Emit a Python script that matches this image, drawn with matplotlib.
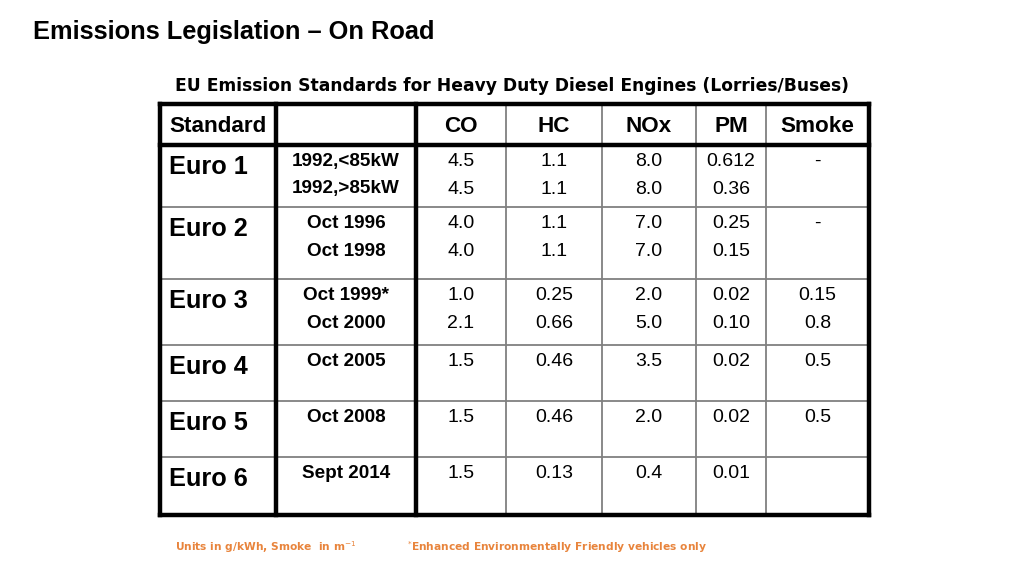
import matplotlib
matplotlib.use("Agg")
import matplotlib.pyplot as plt

# ---- data ----
title = "Emissions Legislation \u2013 On Road"
subtitle = "EU Emission Standards for Heavy Duty Diesel Engines (Lorries/Buses)"
headers = ["Standard", "", "CO", "HC", "NOx", "PM", "Smoke"]
standards = ["Euro 1", "Euro 2", "Euro 3", "Euro 4", "Euro 5", "Euro 6"]
dates = [["1992,<85kW", "1992,>85kW"], ["Oct 1996", "Oct 1998"], ["Oct 1999*", "Oct 2000"],
         ["Oct 2005"], ["Oct 2008"], ["Sept 2014"]]
co = [["4.5", "4.5"], ["4.0", "4.0"], ["1.0", "2.1"], ["1.5"], ["1.5"], ["1.5"]]
hc = [["1.1", "1.1"], ["1.1", "1.1"], ["0.25", "0.66"], ["0.46"], ["0.46"], ["0.13"]]
nox = [["8.0", "8.0"], ["7.0", "7.0"], ["2.0", "5.0"], ["3.5"], ["2.0"], ["0.4"]]
pm = [["0.612", "0.36"], ["0.25", "0.15"], ["0.02", "0.10"], ["0.02"], ["0.02"], ["0.01"]]
smoke = [["-"], ["-"], ["0.15", "0.8"], ["0.5"], ["0.5"], [""]]
footnote_units = "Units in g/kWh, Smoke  in m$^{-1}$"
footnote_eev = "$^{*}$Enhanced Environmentally Friendly vehicles only"

# ---- layout (pixel coordinates) ----
W, H = 1024, 576
fig = plt.figure(figsize=(W / 100, H / 100), dpi=100)
ax = fig.add_axes([0, 0, 1, 1])
ax.set_xlim(0, W)
ax.set_ylim(H, 0)
ax.axis("off")

col_x = [160, 276, 416, 506, 602, 696, 766, 869]
row_y = [104, 145, 207, 279, 345, 401, 457, 515]
sans = "Liberation Sans"
verd = "DejaVu Sans"
orange = "#E8843C"

ax.text(33, 32, title, fontsize=18.3, fontweight="bold", family=sans, va="center", ha="left")
ax.text(512, 86, subtitle, fontsize=12.3, fontweight="bold", family=verd, va="center", ha="center")

# grid lines
for i, x in enumerate(col_x):
    thick = i in (0, 1, 2, len(col_x) - 1)
    ax.plot([x, x], [row_y[0], row_y[-1]], color="black" if thick else "#808080",
            lw=3.2 if thick else 1.3, solid_capstyle="projecting", zorder=3 if thick else 2)
for j, y in enumerate(row_y):
    thick = j in (0, 1, len(row_y) - 1)
    ax.plot([col_x[0], col_x[-1]], [y, y], color="black" if thick else "#808080",
            lw=3.2 if thick else 1.3, solid_capstyle="projecting", zorder=3 if thick else 2)

# header
ax.text(col_x[0] + 9, 126.5, headers[0], fontsize=16.2, fontweight="bold", family=sans,
        va="center", ha="left")
for k in range(2, len(headers)):
    ax.text((col_x[k] + col_x[k + 1]) / 2, 126.5, headers[k], fontsize=16.2, fontweight="bold",
            family=sans, va="center", ha="center")

# body
cols = [co, hc, nox, pm, smoke]
for r, std in enumerate(standards):
    top = row_y[r + 1]
    ax.text(col_x[0] + 9, top + 22, std, fontsize=18.2, fontweight="bold", family=sans,
            va="center", ha="left")
    for li, d in enumerate(dates[r]):
        ax.text((col_x[1] + col_x[2]) / 2, top + 16.5 + 27.5 * li, d, fontsize=13.6,
                fontweight="bold", family=sans, va="center", ha="center")
    for c, vals in enumerate(cols):
        for li, v in enumerate(vals[r]):
            ax.text((col_x[c + 2] + col_x[c + 3]) / 2, top + 16.5 + 27.5 * li, v, fontsize=14.0,
                    family=sans, va="center", ha="center")

ax.text(175, 547, footnote_units, fontsize=7.65, fontweight="bold", family=verd, color=orange,
        va="center", ha="left")
ax.text(407, 547, footnote_eev, fontsize=7.65, fontweight="bold", family=verd, color=orange,
        va="center", ha="left")

fig.savefig("out.png", dpi=100)
